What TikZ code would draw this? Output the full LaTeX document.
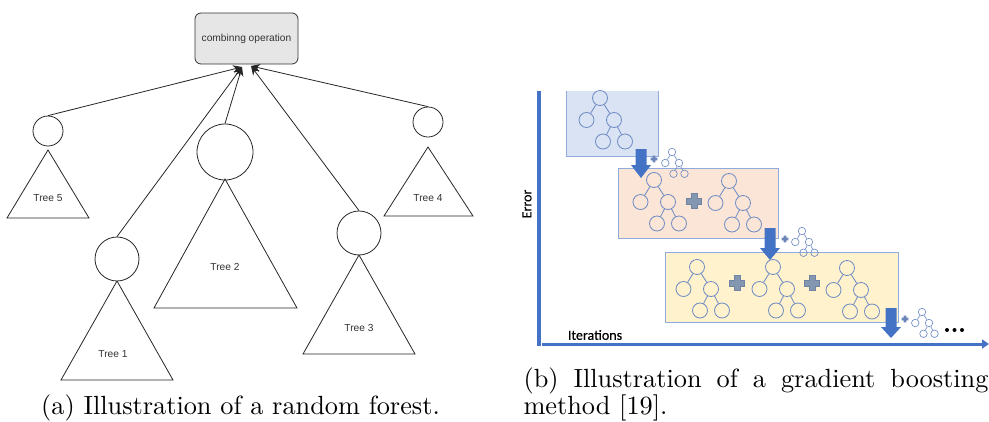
\documentclass[tikz,border=0pt]{standalone}
\usepackage{fontspec}
\newfontfamily\arialfont{Liberation Sans}
\newfontfamily\calfont{Carlito}[FakeBold=0.4]
\usetikzlibrary{arrows.meta,calc}

\definecolor{gbblue}{HTML}{4472C4}
\definecolor{treeblue}{HTML}{6F8CC4}
\definecolor{boxline}{HTML}{8FAADC}
\definecolor{boxa}{HTML}{DAE3F3}
\definecolor{boxb}{HTML}{FBE5D6}
\definecolor{boxc}{HTML}{FFF2CC}
\definecolor{plusfill}{HTML}{8497B0}
\definecolor{plusdraw}{HTML}{6F84A3}
\definecolor{smallplus}{HTML}{6A85B6}
\definecolor{labelgray}{HTML}{333333}
\definecolor{combfill}{HTML}{E6E6E6}

\tikzset{
  combbox/.style={draw=labelgray, fill=combfill, rounded corners=6pt, line width=0.8pt,
    minimum width=103pt, minimum height=51pt, inner sep=0pt,
    font=\arialfont\fontsize{10.2}{12}\selectfont, text=labelgray},
  rootcircle/.style={circle, draw=black!85, line width=0.8pt, inner sep=0pt},
  trishape/.style={draw=black!85, line width=0.8pt, line join=miter},
  treelabel/.style={font=\arialfont\fontsize{10.2}{12}\selectfont, text=labelgray, inner sep=0pt},
  feed/.style={draw=black!85, line width=0.8pt, -{Stealth[length=9pt,width=8pt]}},
  tnode/.style={circle, draw=treeblue, line width=0.85pt, inner sep=0pt},
  tedge/.style={draw=treeblue, line width=0.85pt},
  tnodesmall/.style={circle, draw=treeblue, line width=0.65pt, inner sep=0pt},
  tedgesmall/.style={draw=treeblue, line width=0.65pt},
  boxedge/.style={draw=boxline, line width=0.8pt},
  axisline/.style={draw=gbblue, line width=3.5pt},
  gbtext/.style={font=\calfont\fontsize{14}{16}\selectfont, text=black, inner sep=0pt},
  captext/.style={scale=2.63, inner sep=0pt}
}

% a small binary tree: root, two children, two grandchildren under the right child
% #1 name prefix, #2 x, #3 y, #4 scale, #5 node style, #6 edge style, #7 circle size
\newcommand\gbtree[7]{%
  \node[#5, minimum size=#7] (#1r) at (#2,#3) {};
  \node[#5, minimum size=#7] (#1a) at ($(#1r)+(-13.5*#4,22*#4)$) {};
  \node[#5, minimum size=#7] (#1b) at ($(#1r)+(14*#4,22*#4)$) {};
  \node[#5, minimum size=#7] (#1c) at ($(#1b)+(-11*#4,21.5*#4)$) {};
  \node[#5, minimum size=#7] (#1d) at ($(#1b)+(11*#4,21.5*#4)$) {};
  \draw[#6] (#1r) -- (#1a);
  \draw[#6] (#1r) -- (#1b);
  \draw[#6] (#1b) -- (#1c);
  \draw[#6] (#1b) -- (#1d);
}

% plus sign: #1 style, #2 x, #3 y, #4 scale
\newcommand\plusmark[4]{%
  \begin{scope}[shift={(#2,#3)}, scale=#4]
    \path[#1] (-2.8,-7.5) -- ++(5.6,0) -- ++(0,4.7) -- ++(4.7,0) -- ++(0,5.6)
      -- ++(-4.7,0) -- ++(0,4.7) -- ++(-5.6,0) -- ++(0,-4.7) -- ++(-4.7,0)
      -- ++(0,-5.6) -- ++(4.7,0) -- cycle;
  \end{scope}%
}

% downward block arrow: #1 x, #2 top, #3 start of head, #4 tip
\newcommand\blockdown[4]{%
  \fill[gbblue] (#1-5.5,#2) -- (#1+5.5,#2) -- (#1+5.5,#3) -- (#1+10,#3)
    -- (#1,#4) -- (#1-10,#3) -- (#1-5.5,#3) -- cycle;
}

\begin{document}
\begin{tikzpicture}[x=1pt, y=-1pt]
\useasboundingbox (0,0) rectangle (989,421);

% ---------- random forest ----------
\node[combbox] (comb) at (246.5,38.5) {combinng operation};
\coordinate (tipA) at (242,67);
\coordinate (tipB) at (251,66);

\node[rootcircle, minimum size=30pt] (c5) at (48,131) {};
\node[rootcircle, minimum size=44pt] (c1) at (117,259) {};
\node[rootcircle, minimum size=56pt] (c2) at (225,152) {};
\node[rootcircle, minimum size=44pt] (c3) at (359,233) {};
\node[rootcircle, minimum size=30pt] (c4) at (428,122) {};

\draw[trishape] (48,150) -- (89,218) -- (7,218) -- cycle;
\draw[trishape] (117,281) -- (173,380) -- (61,380) -- cycle;
\draw[trishape] (225,179) -- (297,308) -- (154,308) -- cycle;
\draw[trishape] (359,255) -- (415,354) -- (303,354) -- cycle;
\draw[trishape] (428,147) -- (473,216) -- (384,216) -- cycle;

\node[treelabel] (l5) at (48,198) {Tree 5};
\node[treelabel] (l1) at (113,354) {Tree 1};
\node[treelabel] (l2) at (225,267) {Tree 2};
\node[treelabel] (l3) at (359,328) {Tree 3};
\node[treelabel] (l4) at (428,198) {Tree 4};

\draw[feed] (c5.north) -- (tipA);
\draw[feed] (c1.north) -- (tipA);
\draw[feed] (c2.north) -- (tipA);
\draw[feed] (c3.north) -- (tipB);
\draw[feed] (c4.north) -- (tipB);

\node[captext, anchor=base] (capa) at (240.5,414)
  {\fontsize{10}{12}\selectfont (a) Illustration of a random forest.};

% ---------- gradient boosting ----------
% stage boxes
\fill[boxa] (566,91) rectangle (658,156);
\draw[boxedge] (566,91) -- (566,156) -- (658,156) -- (658,91);
\fill[boxb] (618,168) rectangle (778,238);
\draw[boxedge] (618,168) rectangle (778,238);
\fill[boxc] (665,252) rectangle (898,322);
\draw[boxedge] (665,252) rectangle (898,322);

% trees inside the boxes
\gbtree{pa}{600}{98}{1}{tnode}{tedge}{15pt}
\gbtree{qa}{654}{180}{1}{tnode}{tedge}{15pt}
\gbtree{qb}{729}{181}{1}{tnode}{tedge}{15pt}
\gbtree{ra}{697}{267}{1}{tnode}{tedge}{15pt}
\gbtree{rb}{773}{267}{1}{tnode}{tedge}{15pt}
\gbtree{rc}{847}{268}{1}{tnode}{tedge}{15pt}

\plusmark{fill=plusfill, draw=plusdraw, line width=0.5pt}{694}{201}{1}
\plusmark{fill=plusfill, draw=plusdraw, line width=0.5pt}{737}{283}{1}
\plusmark{fill=plusfill, draw=plusdraw, line width=0.5pt}{812}{283}{1}

% trees added at each step
\plusmark{fill=smallplus}{654}{159}{0.45}
\gbtree{sa}{672}{152}{0.5}{tnodesmall}{tedgesmall}{7.5pt}
\plusmark{fill=smallplus}{785}{239}{0.45}
\gbtree{sb}{802}{231}{0.5}{tnodesmall}{tedgesmall}{7.5pt}
\plusmark{fill=smallplus}{905}{319}{0.45}
\gbtree{sc}{922}{312}{0.5}{tnodesmall}{tedgesmall}{7.5pt}

\blockdown{641}{149}{165}{178}
\blockdown{770}{228}{248}{260}
\blockdown{891}{308}{327}{338}

\fill[black] (947,330) circle (2pt) (954.5,330) circle (2pt) (962,330) circle (2pt);

% axes
\draw[axisline] (539,91) -- (539,346);
\draw[draw=gbblue, line width=3pt, -{Triangle[length=7pt,width=9pt]}] (542,344) -- (989,344);
\node[gbtext, rotate=90] (err) at (527,204) {Error};
\node[gbtext] (iter) at (595,335) {Iterations};

\node[captext, anchor=base west] (capb1) at (523,387)
  {\fontsize{10}{12}\selectfont\makebox[176.8pt][s]{(b) Illustration of a gradient boosting}};
\node[captext, anchor=base west] (capb2) at (523,414)
  {\fontsize{10}{12}\selectfont method [19].};
\end{tikzpicture}
\end{document}
